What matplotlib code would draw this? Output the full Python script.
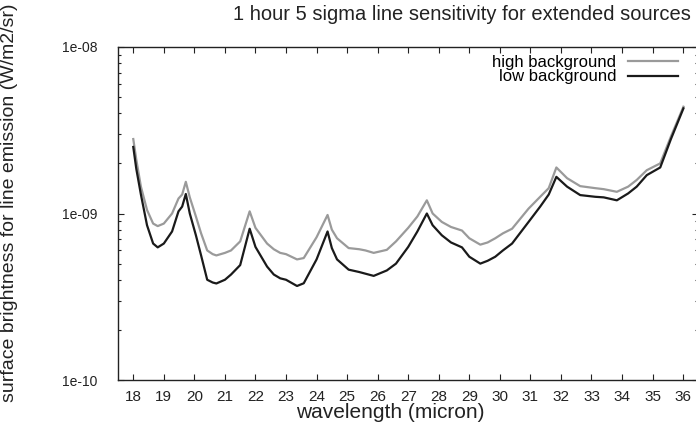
import matplotlib
matplotlib.use("Agg")
import matplotlib.pyplot as plt
from matplotlib.ticker import LogLocator, NullFormatter, FixedLocator, FixedFormatter
import numpy as np

plt.rcParams['font.family'] = ['Liberation Sans', 'DejaVu Sans']

# wavelength grid (micron) and 5 sigma surface brightness (W/m2/sr)
wave = [18.0, 18.1, 18.25, 18.45, 18.65, 18.8, 19.0, 19.27, 19.48, 19.6, 19.72,
        19.85, 20.05, 20.22, 20.42, 20.6, 20.72, 21.0, 21.2, 21.5, 21.81, 22.0,
        22.38, 22.6, 22.81, 23.0, 23.36, 23.58, 24.0, 24.36, 24.5, 24.67, 25.05,
        25.4, 25.6, 25.87, 26.3, 26.6, 27.0, 27.3, 27.61, 27.8, 28.1, 28.4, 28.76,
        29.0, 29.36, 29.6, 29.85, 30.1, 30.4, 30.94, 31.32, 31.6, 31.85, 32.2,
        32.63, 33.12, 33.4, 33.83, 34.2, 34.48, 34.81, 35.25, 35.6, 36.01]

high_bg = [2.80e-9, 2.10e-9, 1.45e-9, 1.05e-9, 8.7e-10, 8.4e-10, 8.7e-10, 1.0e-9,
           1.23e-9, 1.30e-9, 1.55e-9, 1.25e-9, 9.6e-10, 7.6e-10, 6.0e-10, 5.7e-10,
           5.6e-10, 5.8e-10, 6.0e-10, 6.8e-10, 1.03e-9, 8.2e-10, 6.6e-10, 6.1e-10,
           5.8e-10, 5.7e-10, 5.3e-10, 5.4e-10, 7.2e-10, 9.8e-10, 8.0e-10, 7.1e-10,
           6.2e-10, 6.1e-10, 6.0e-10, 5.8e-10, 6.05e-10, 6.8e-10, 8.2e-10, 9.6e-10,
           1.2e-9, 1.0e-9, 8.9e-10, 8.3e-10, 7.9e-10, 7.1e-10, 6.5e-10, 6.7e-10,
           7.1e-10, 7.6e-10, 8.1e-10, 1.07e-9, 1.26e-9, 1.42e-9, 1.89e-9, 1.63e-9,
           1.46e-9, 1.42e-9, 1.40e-9, 1.35e-9, 1.45e-9, 1.59e-9, 1.82e-9, 2.0e-9,
           2.9e-9, 4.38e-9]

low_bg = [2.51e-9, 1.85e-9, 1.30e-9, 8.5e-10, 6.6e-10, 6.26e-10, 6.6e-10, 7.8e-10,
          1.03e-9, 1.10e-9, 1.31e-9, 1.0e-9, 7.4e-10, 5.6e-10, 4.0e-10, 3.85e-10,
          3.8e-10, 4.0e-10, 4.3e-10, 4.9e-10, 8.1e-10, 6.3e-10, 4.8e-10, 4.3e-10,
          4.08e-10, 4.0e-10, 3.67e-10, 3.81e-10, 5.3e-10, 7.8e-10, 6.2e-10, 5.3e-10,
          4.6e-10, 4.45e-10, 4.35e-10, 4.22e-10, 4.55e-10, 5.0e-10, 6.3e-10, 7.8e-10,
          1.0e-9, 8.5e-10, 7.4e-10, 6.7e-10, 6.26e-10, 5.5e-10, 5.0e-10, 5.2e-10,
          5.5e-10, 6.0e-10, 6.6e-10, 8.9e-10, 1.1e-9, 1.3e-9, 1.66e-9, 1.45e-9,
          1.29e-9, 1.26e-9, 1.25e-9, 1.2e-9, 1.32e-9, 1.45e-9, 1.7e-9, 1.89e-9,
          2.8e-9, 4.28e-9]

x_ticks = list(range(18, 37))
y_ticks = [1e-10, 1e-9, 1e-8]
y_ticklabels = ["1e-10", "1e-09", "1e-08"]

fig = plt.figure(figsize=(6.96, 4.34), dpi=100)
ax = fig.add_axes([118 / 696, 54 / 434, 579.5 / 696, 333 / 434])

ax.plot(wave, high_bg, color="#9a9a9a", lw=1.6, label="high background")
ax.plot(wave, low_bg, color="#1a1a1a", lw=1.6, label="low background")

ax.set_yscale("log")
ax.set_xlim(17.5, 36.47)
ax.set_ylim(1e-10, 1e-8)

ax.xaxis.set_major_locator(FixedLocator(x_ticks))
ax.yaxis.set_major_locator(FixedLocator(y_ticks))
ax.yaxis.set_major_formatter(FixedFormatter(y_ticklabels))
ax.yaxis.set_minor_locator(LogLocator(base=10, subs=np.arange(2, 10)))
ax.yaxis.set_minor_formatter(NullFormatter())

ax.tick_params(which="both", direction="in", top=True, right=True, width=0.8, color="#222222")
ax.tick_params(which="major", length=4.5)
ax.tick_params(which="minor", length=2.4)
ax.tick_params(axis="x", labelsize=11, pad=7, labelcolor="#222222")
ax.tick_params(axis="y", labelsize=10, pad=15, labelcolor="#222222")
for s in ax.spines.values():
    s.set_linewidth(1.0)
    s.set_color("#222222")

leg = ax.legend(loc="upper right", bbox_to_anchor=(0.966, 0.975), frameon=False,
                markerfirst=False, fontsize=12, handlelength=3.0, handletextpad=0.7,
                labelspacing=-0.05, borderpad=0, borderaxespad=0)

fig.text(462 / 696, 1 - 15 / 434, "1 hour 5 sigma line sensitivity for extended sources",
         ha="center", va="center", fontsize=14.5, color="#222222")
fig.text(390 / 696, 1 - 412 / 434, "wavelength (micron)",
         ha="center", va="center", fontsize=15, color="#222222")
fig.text(10 / 696, 1 - 203 / 434, "surface brightness for line emission (W/m2/sr)",
         ha="center", va="center", rotation=90, fontsize=14, color="#222222")

fig.savefig("out.png", dpi=100)
